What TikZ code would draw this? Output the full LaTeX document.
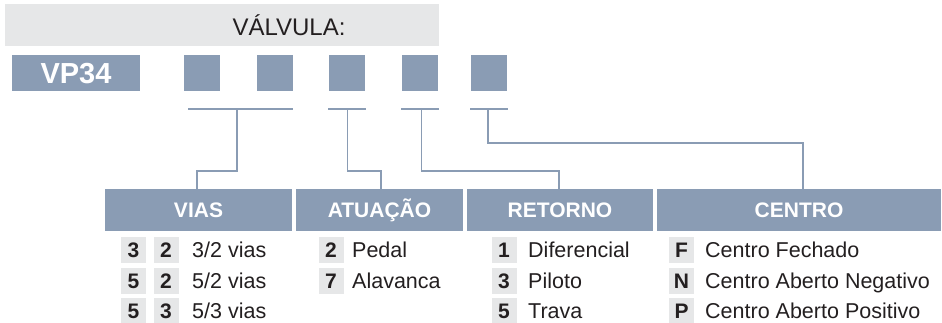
\documentclass[tikz,border=0pt]{standalone}
\usepackage{fontspec}
\setmainfont{Liberation Sans}
\definecolor{hdr}{RGB}{138,156,180}
\definecolor{lgrey}{RGB}{230,231,232}
\definecolor{ink}{RGB}{35,31,32}
\tikzset{
  band/.style={fill=lgrey, draw=none, inner sep=0pt},
  bluebox/.style={fill=hdr, draw=none, inner sep=0pt, text=white, font=\bfseries\fontsize{21}{24}\selectfont, text height=15pt, text depth=0pt},
  sqbox/.style={fill=hdr, draw=none, inner sep=0pt, minimum width=36pt, minimum height=36pt},
  code/.style={fill=lgrey, draw=none, inner sep=0pt, minimum width=25pt, minimum height=26pt, text=ink, font=\bfseries\fontsize{21}{24}\selectfont, text height=15pt, text depth=0pt},
  item/.style={anchor=west, inner sep=0pt, text=ink, font=\fontsize{21.5}{24}\selectfont, text height=15.4pt, text depth=0pt},
  conn/.style={draw=hdr, line width=1.5pt}
}
\begin{document}
\begin{tikzpicture}[x=1pt,y=-1pt]
\useasboundingbox (0,0) rectangle (942,322);
% top band
\node[band, minimum width=434pt, minimum height=42pt] (band) at (222,25) {};
\node[inner sep=0pt, text=ink, font=\fontsize{24}{28}\selectfont, text height=17pt, text depth=0pt] (valv) at (289,26.5) {VÁLVULA:};
% code row
\node[bluebox, font=\bfseries\fontsize{29}{32}\selectfont, text height=21pt, minimum width=128pt, minimum height=36pt] (vp) at (76,73) {VP34};
\node[sqbox] (sq1) at (202,73) {};
\node[sqbox] (sq2) at (275,73) {};
\node[sqbox] (sq3) at (347,73) {};
\node[sqbox] (sq4) at (420,73) {};
\node[sqbox] (sq5) at (489,73) {};
% headers
\node[bluebox, minimum width=187pt, minimum height=42pt] (vias) at (198.5,210) {VIAS};
\node[bluebox, minimum width=167pt, minimum height=42pt] (atua) at (379.5,210) {ATUAÇÃO};
\node[bluebox, minimum width=186pt, minimum height=42pt] (ret) at (560,210) {RETORNO};
\node[bluebox, minimum width=284pt, minimum height=42pt] (cen) at (799,210) {CENTRO};
% brackets
\coordinate (b1l) at (188,109); \coordinate (b1r) at (293,109); \coordinate (b1) at (237,109);
\coordinate (b2l) at (328,109); \coordinate (b2r) at (366,109); \coordinate (b2) at (347.5,109);
\coordinate (b3l) at (401,109); \coordinate (b3r) at (439,109); \coordinate (b3) at (421.5,109);
\coordinate (b4l) at (470,109); \coordinate (b4r) at (508,109); \coordinate (b4) at (488,109);
\draw[conn] (b1l) -- (b1r);
\draw[conn] (b2l) -- (b2r);
\draw[conn] (b3l) -- (b3r);
\draw[conn] (b4l) -- (b4r);
\draw[conn] (b1) -- (237,171) -| ([xshift=-1.5pt]vias.north);
\draw[conn] (b2) -- (347.5,171) -| ([xshift=1.5pt]atua.north);
\draw[conn] (b3) -- (421.5,171) -| ([xshift=-1pt]ret.north);
\draw[conn] (b4) -- (488,143) -| ([xshift=4pt]cen.north);
% VIAS items
\node[code] (v1a) at (133.5,250) {3}; \node[code] (v1b) at (166,250) {2}; \node[item] (v1t) at (192,250) {3/2 vias};
\node[code] (v2a) at (133.5,280.5) {5}; \node[code] (v2b) at (166,280.5) {2}; \node[item] (v2t) at (192,280.5) {5/2 vias};
\node[code] (v3a) at (133.5,311) {5}; \node[code] (v3b) at (166,311) {3}; \node[item] (v3t) at (192,311) {5/3 vias};
% ATUACAO items
\node[code] (a1) at (331,250) {2}; \node[item] (a1t) at (352,250) {Pedal};
\node[code] (a2) at (331,280.5) {7}; \node[item] (a2t) at (352,280.5) {Alavanca};
% RETORNO items
\node[code] (r1) at (504,250) {1}; \node[item] (r1t) at (528,250) {Diferencial};
\node[code] (r2) at (504,280.5) {3}; \node[item] (r2t) at (528,280.5) {Piloto};
\node[code] (r3) at (504,311) {5}; \node[item] (r3t) at (528,311) {Trava};
% CENTRO items
\node[code] (c1) at (681.5,250) {F}; \node[item] (c1t) at (705,250) {Centro Fechado};
\node[code] (c2) at (681.5,280.5) {N}; \node[item] (c2t) at (705,280.5) {Centro Aberto Negativo};
\node[code] (c3) at (681.5,311) {P}; \node[item] (c3t) at (705,311) {Centro Aberto Positivo};
\end{tikzpicture}
\end{document}
